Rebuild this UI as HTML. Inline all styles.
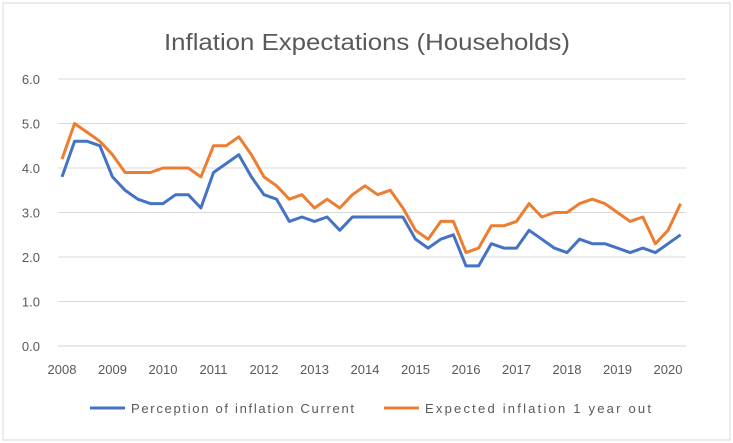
<!DOCTYPE html>
<html><head><meta charset="utf-8"><style>
body{margin:0;background:#fff;font-family:"Liberation Sans",sans-serif}
svg{display:block}
</style></head><body>
<svg id="chart" width="733" height="443">
<rect x="3" y="3" width="727" height="437" fill="#fff" stroke="#d9d9d9"/>
<text x="164" y="50" textLength="406" lengthAdjust="spacingAndGlyphs" font-size="23" fill="#595959">Inflation Expectations (Households)</text>
<g id="grid"></g><g id="series"></g>
<g>
<line x1="90" y1="408" x2="125" y2="408" stroke="#4472C4" stroke-width="3"/>
<text x="131" y="413" textLength="223" lengthAdjust="spacing" font-size="13" fill="#595959">Perception of inflation Current</text>
<line x1="384" y1="408" x2="419" y2="408" stroke="#ED7D31" stroke-width="3"/>
<text x="425" y="413" textLength="226" lengthAdjust="spacing" font-size="13" fill="#595959">Expected inflation 1 year out</text>
</g>
</svg>
<script>
const yTicks=[0,1,2,3,4,5,6];
const xYears=[2008,2009,2010,2011,2012,2013,2014,2015,2016,2017,2018,2019,2020];
const startYear=2008;
const current=[3.8,4.6,4.6,4.5,3.8,3.5,3.3,3.2,3.2,3.4,3.4,3.1,3.9,4.1,4.3,3.8,3.4,3.3,2.8,2.9,2.8,2.9,2.6,2.9,2.9,2.9,2.9,2.9,2.4,2.2,2.4,2.5,1.8,1.8,2.3,2.2,2.2,2.6,2.4,2.2,2.1,2.4,2.3,2.3,2.2,2.1,2.2,2.1,2.3,2.5];
const expected=[4.2,5.0,4.8,4.6,4.3,3.9,3.9,3.9,4.0,4.0,4.0,3.8,4.5,4.5,4.7,4.3,3.8,3.6,3.3,3.4,3.1,3.3,3.1,3.4,3.6,3.4,3.5,3.1,2.6,2.4,2.8,2.8,2.1,2.2,2.7,2.7,2.8,3.2,2.9,3.0,3.0,3.2,3.3,3.2,3.0,2.8,2.9,2.3,2.6,3.2];
const ns="http://www.w3.org/2000/svg";
const xs=t=>62+(t-startYear)*50.5;
const ys=v=>346-v*44.5;
const grid=document.getElementById('grid'),ser=document.getElementById('series');
function mk(tag,attrs,parent){const e=document.createElementNS(ns,tag);for(const k in attrs)e.setAttribute(k,attrs[k]);parent.appendChild(e);return e;}
yTicks.forEach(v=>{
 const l=mk('line',{x1:58,x2:686,y1:ys(v),y2:ys(v),stroke:v===0?'#d0d0d0':'#d9d9d9','stroke-width':1},grid);
 
 
 const t=mk('text',{x:40,y:ys(v)+5,'text-anchor':'end','font-size':13,fill:'#595959'},grid);
 t.textContent=v.toFixed(1);
 
 
});
xYears.forEach(y=>{
 const t=mk('text',{x:xs(y),y:374,'text-anchor':'middle','font-size':13,fill:'#595959'},grid);
 t.textContent=y;
 
 
});
function line(data,color,name){
 const d=data.map((v,i)=>(i?'L':'M')+xs(startYear+i*0.25).toFixed(1)+','+ys(v).toFixed(1)).join('');
 const p=mk('path',{d:d,fill:'none',stroke:color,'stroke-width':3,'stroke-linejoin':'round'},ser);
 
 
}
line(current,'#4472C4','series-current');
line(expected,'#ED7D31','series-expected');
</script>
</body></html>
